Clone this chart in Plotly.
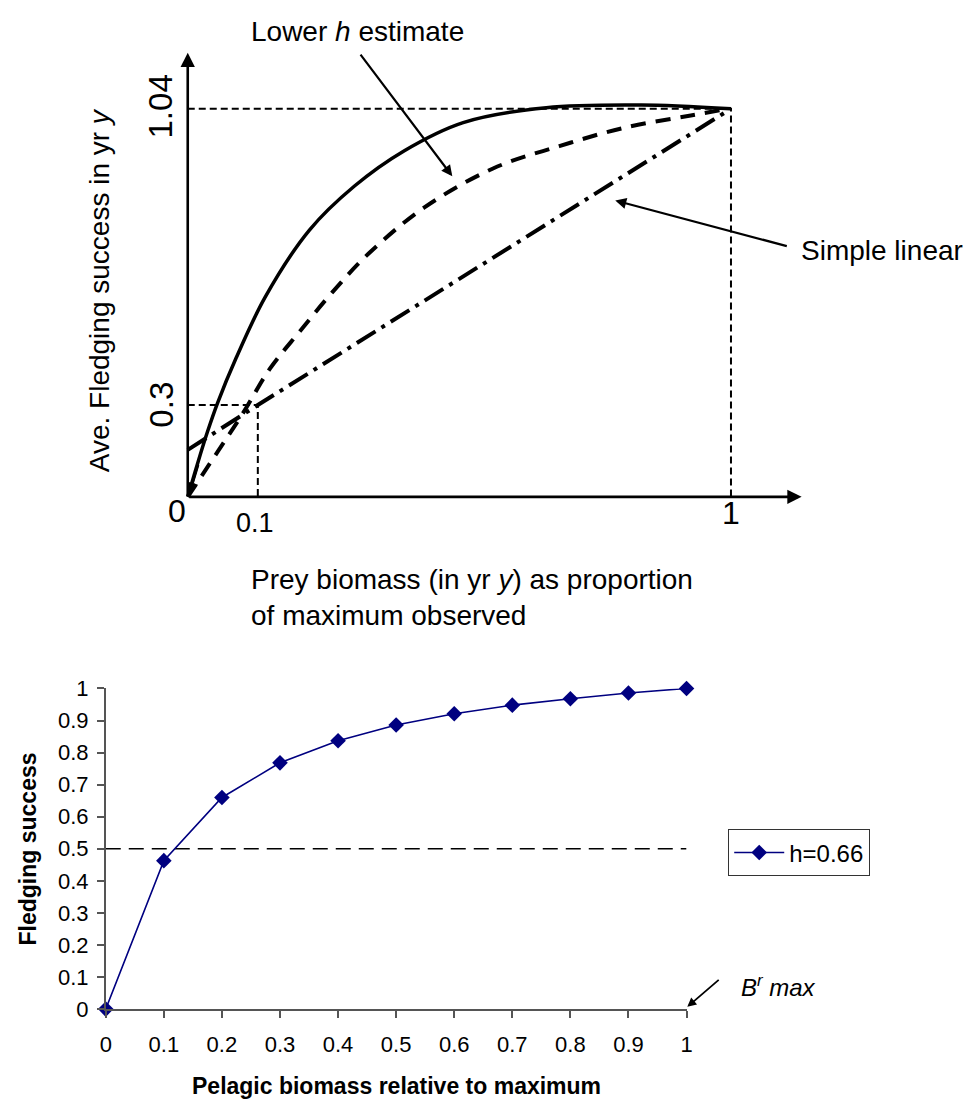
import plotly.graph_objects as go

# ---------------- Top schematic (schematic coordinates) ----------------
# x: proportion of max prey biomass (schematic scale), y: fledging success (schematic scale)
high_h_x = [0, 0.018, 0.036, 0.055, 0.089, 0.142, 0.224, 0.307, 0.398, 0.507, 0.66, 0.835, 1.0]
high_h_y = [0, 0.089, 0.173, 0.252, 0.372, 0.534, 0.715, 0.833, 0.927, 1.003, 1.043, 1.050, 1.04]

lower_h_x = [0, 0.051, 0.102, 0.151, 0.206, 0.266, 0.333, 0.435, 0.562, 0.684, 0.806, 0.926, 0.993]
lower_h_y = [0, 0.112, 0.225, 0.343, 0.443, 0.548, 0.652, 0.775, 0.880, 0.940, 0.990, 1.022, 1.04]

linear_x = [0, 0.129, 0.99]
linear_y = [0.126, 0.246, 1.031]

# reference point positions on the schematic and their labels
ref_low_x, ref_low_y = 0.129, 0.246
ref_high_x, ref_high_y = 1.0, 1.04
top_xtick_pos = [-0.02, 0.124, 1.0]
top_xtick_text = ["0", "0.1", "1"]
top_ytick_pos = [1.045, 0.246]
top_ytick_text = ["1.04", "0.3"]

# ---------------- Bottom chart data ----------------
biomass = [0, 0.1, 0.2, 0.3, 0.4, 0.5, 0.6, 0.7, 0.8, 0.9, 1.0]
fledging = [0, 0.463, 0.66, 0.768, 0.837, 0.886, 0.921, 0.948, 0.968, 0.986, 1.0]
bottom_ticks = [0, 0.1, 0.2, 0.3, 0.4, 0.5, 0.6, 0.7, 0.8, 0.9, 1]
bottom_tick_text = ["0", "0.1", "0.2", "0.3", "0.4", "0.5", "0.6", "0.7", "0.8", "0.9", "1"]
threshold = 0.5

FONT = "Liberation Sans, Arial, sans-serif"
W, H = 977, 1113

fig = go.Figure()

# top: reference dashed guides
fig.add_trace(go.Scatter(x=[0, ref_high_x, ref_high_x], y=[ref_high_y, ref_high_y, 0],
                         mode="lines", line=dict(color="black", width=2, dash="7px,4px"),
                         showlegend=False, hoverinfo="skip", xaxis="x", yaxis="y"))
fig.add_trace(go.Scatter(x=[0, ref_low_x, ref_low_x], y=[ref_low_y, ref_low_y, 0],
                         mode="lines", line=dict(color="black", width=2, dash="7px,4px"),
                         showlegend=False, hoverinfo="skip", xaxis="x", yaxis="y"))
# top: curves
fig.add_trace(go.Scatter(x=high_h_x, y=high_h_y, mode="lines",
                         line=dict(color="black", width=3.5, shape="spline", smoothing=0.9),
                         showlegend=False, hoverinfo="skip", xaxis="x", yaxis="y"))
fig.add_trace(go.Scatter(x=lower_h_x, y=lower_h_y, mode="lines",
                         line=dict(color="black", width=4, dash="15px,10px", shape="spline", smoothing=1.0),
                         showlegend=False, hoverinfo="skip", xaxis="x", yaxis="y"))
fig.add_trace(go.Scatter(x=linear_x, y=linear_y, mode="lines",
                         line=dict(color="black", width=4, dash="22px,7px,4px,7px"),
                         showlegend=False, hoverinfo="skip", xaxis="x", yaxis="y"))

# bottom: threshold line
fig.add_trace(go.Scatter(x=[biomass[0], biomass[-1]], y=[threshold, threshold], mode="lines",
                         line=dict(color="black", width=1.6, dash="15px,8px"),
                         showlegend=False, hoverinfo="skip", xaxis="x2", yaxis="y2"))
# bottom: h=0.66 series
fig.add_trace(go.Scatter(x=biomass, y=fledging, mode="lines+markers", name="h=0.66",
                         line=dict(color="#000080", width=1.6),
                         marker=dict(symbol="diamond", size=12, color="#000080"),
                         cliponaxis=False, xaxis="x2", yaxis="y2"))

ann = []
top_font = dict(family=FONT, size=28, color="black")
# axis arrows of schematic
ann.append(dict(x=0, y=1.19, ax=0, ay=0, xref="x", yref="y", axref="x", ayref="y", text="",
                showarrow=True, arrowhead=2, arrowsize=1.1, arrowwidth=2.6, arrowcolor="black", standoff=0))
ann.append(dict(x=1.13, y=0, ax=0, ay=0, xref="x", yref="y", axref="x", ayref="y", text="",
                showarrow=True, arrowhead=2, arrowsize=1.1, arrowwidth=2.6, arrowcolor="black", standoff=0))
# small arrow at origin end of the solid curve
ann.append(dict(x=0.003, y=0.008, ax=0.02, ay=0.09, xref="x", yref="y", axref="x", ayref="y",
                text="", showarrow=True, arrowhead=2, arrowsize=0.9, arrowwidth=2.5, arrowcolor="black", standoff=0))
# pointer annotations
ann.append(dict(x=0.3127, y=1.247, xref="x", yref="y", text="Lower <i>h</i> estimate", showarrow=False,
                font=top_font, xanchor="center", yanchor="middle"))
ann.append(dict(x=0.487, y=0.859, ax=0.316, ay=1.189, xref="x", yref="y", axref="x", ayref="y", text="",
                showarrow=True, arrowhead=2, arrowsize=1.0, arrowwidth=2.2, arrowcolor="black", standoff=0))
ann.append(dict(x=1.1255, y=0.66, xref="x", yref="y", text="Simple linear", showarrow=False,
                font=top_font, xanchor="left", yanchor="middle"))
ann.append(dict(x=0.787, y=0.794, ax=1.1055, ay=0.671, xref="x", yref="y", axref="x", ayref="y", text="",
                showarrow=True, arrowhead=2, arrowsize=1.0, arrowwidth=2.2, arrowcolor="black", standoff=0))
# schematic tick labels
for pos, txt, yy, sz in zip(top_xtick_pos, top_xtick_text, [-0.037, -0.071, -0.042], [32, 27, 32]):
    ann.append(dict(x=pos, y=yy, xref="x", yref="y", text=txt, showarrow=False,
                    font=dict(family=FONT, size=sz, color="black"), xanchor="center", yanchor="middle"))
for pos, txt in zip(top_ytick_pos, top_ytick_text):
    ann.append(dict(x=-0.05, y=pos, xref="x", yref="y", text=txt, showarrow=False, textangle=-90,
                    font=dict(family=FONT, size=33, color="black"), xanchor="center", yanchor="middle"))
# schematic axis titles
ann.append(dict(x=-0.162, y=0.553, xref="x", yref="y", text="Ave. Fledging success in yr <i>y</i>",
                showarrow=False, textangle=-90, font=top_font, xanchor="center", yanchor="middle"))
ann.append(dict(x=0.1127, y=-0.2685, xref="x", yref="y",
                text="Prey biomass (in yr <i>y</i>) as proportion<br>of maximum observed",
                showarrow=False, align="left", font=top_font, xanchor="left", yanchor="middle"))

# bottom chart titles
ann.append(dict(x=395 / W, y=1 - 1099 / H, xref="paper", yref="paper",
                text="<b>Pelagic biomass relative to maximum</b>", showarrow=False,
                font=dict(family=FONT, size=23, color="black"), xanchor="center", yanchor="middle"))
ann.append(dict(x=22 / W, y=1 - 856 / H, xref="paper", yref="paper", text="<b>Fledging success</b>",
                showarrow=False, textangle=-90, font=dict(family=FONT, size=23, color="black"),
                xanchor="center", yanchor="middle"))
# B^r max pointer
ann.append(dict(x=742 / W, y=1 - 996 / H, xref="paper", yref="paper", text="<i>B<sup>r</sup> max</i>",
                showarrow=False, font=dict(family=FONT, size=24, color="black"), xanchor="left", yanchor="middle"))
ann.append(dict(x=1.0, y=0.005, ax=1.058, ay=0.095, xref="x2", yref="y2", axref="x2", ayref="y2", text="",
                showarrow=True, arrowhead=2, arrowsize=1.0, arrowwidth=1.8, arrowcolor="black", standoff=1))

axis_gray = "#555555"
fig.update_layout(
    width=W, height=H, margin=dict(l=0, r=0, t=0, b=0),
    paper_bgcolor="white", plot_bgcolor="rgba(0,0,0,0)",
    font=dict(family=FONT, color="black"),
    xaxis=dict(domain=[0, 1], range=[-184 / 550, (W - 184) / 550], visible=False, fixedrange=True),
    yaxis=dict(domain=[0, 1], range=[(496 - H) * 1.04 / 397, 496 * 1.04 / 397], visible=False, fixedrange=True),
    xaxis2=dict(domain=[101 / W, 689 / W], range=[0, 1], anchor="y2", showgrid=False, zeroline=False,
                showline=True, linecolor=axis_gray, linewidth=1.5, ticks="outside", ticklen=7,
                tickcolor=axis_gray, tickwidth=1.5, tickvals=bottom_ticks, ticktext=bottom_tick_text,
                tickfont=dict(family=FONT, size=22, color="black"), ticklabelstandoff=8),
    yaxis2=dict(domain=[1 - 1020 / H, 1 - 692 / H], range=[0, 1], anchor="x2", showgrid=False, zeroline=False,
                showline=True, linecolor=axis_gray, linewidth=1.5, ticks="outside", ticklen=7,
                tickcolor=axis_gray, tickwidth=1.5, tickvals=bottom_ticks, ticktext=bottom_tick_text,
                tickfont=dict(family=FONT, size=22, color="black"), ticklabelstandoff=4),
    showlegend=True,
    legend=dict(x=731 / W, y=1 - 836 / H, xanchor="left", yanchor="top", bordercolor="#333333", borderwidth=1.2,
                bgcolor="white", font=dict(family=FONT, size=24, color="black"),
                itemwidth=50, tracegroupgap=0),
    annotations=ann,
)

fig.write_html("out.html")
